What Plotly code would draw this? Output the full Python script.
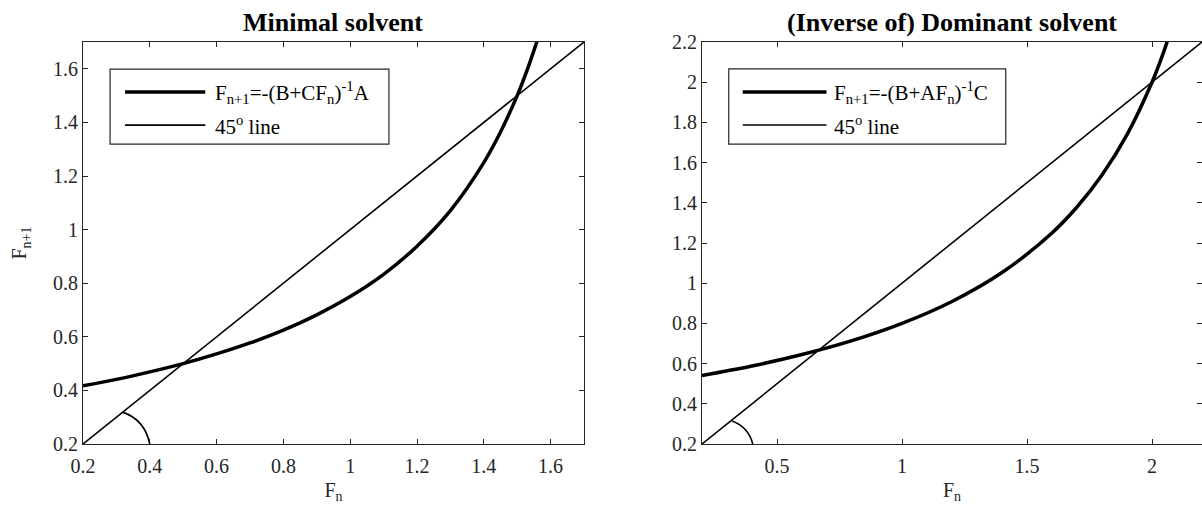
import plotly.graph_objects as go

# values
# left panel: minimal solvent iteration
min_x = [0.2, 0.3, 0.4, 0.5, 0.6, 0.7, 0.8, 0.9, 1.0, 1.1, 1.2, 1.3, 1.4, 1.45, 1.5, 1.53, 1.56]
min_y = [0.417, 0.441, 0.469, 0.5, 0.536, 0.577, 0.625, 0.682, 0.75, 0.833, 0.938, 1.071, 1.25, 1.364, 1.5, 1.596, 1.705]
min_line = [0.2, 1.7]

# right panel: (inverse of) dominant solvent iteration
dom_x = [0.2, 0.4, 0.6, 0.8, 1.0, 1.2, 1.4, 1.6, 1.7, 1.8, 1.9, 2.0, 2.05, 2.07]
dom_y = [0.541, 0.588, 0.645, 0.714, 0.8, 0.909, 1.053, 1.25, 1.379, 1.538, 1.739, 2.0, 2.162, 2.24]
dom_line = [0.2, 2.2]

left_ticks = [0.2, 0.4, 0.6, 0.8, 1.0, 1.2, 1.4, 1.6]
right_xticks = [0.5, 1.0, 1.5, 2.0]
right_yticks = [0.2, 0.4, 0.6, 0.8, 1.0, 1.2, 1.4, 1.6, 1.8, 2.0, 2.2]

titles = ["Minimal solvent", "(Inverse of) Dominant solvent"]
legend_curve = ["F<sub>n+1</sub>=-(B+CF<sub>n</sub>)<sup>-1</sup>A",
                "F<sub>n+1</sub>=-(B+AF<sub>n</sub>)<sup>-1</sup>C"]
legend_line = "45<sup>o</sup> line"

FONT = "Liberation Serif"
AXC = "#262626"

fig = go.Figure()
fig.add_trace(go.Scatter(x=min_x, y=min_y, mode="lines", line=dict(color="black", width=3.5, shape="spline"),
                         xaxis="x", yaxis="y", showlegend=False))
fig.add_trace(go.Scatter(x=min_line, y=min_line, mode="lines", line=dict(color="black", width=1.6),
                         xaxis="x", yaxis="y", showlegend=False))
fig.add_trace(go.Scatter(x=dom_x, y=dom_y, mode="lines", line=dict(color="black", width=3.5, shape="spline"),
                         xaxis="x2", yaxis="y2", showlegend=False))
fig.add_trace(go.Scatter(x=dom_line, y=dom_line, mode="lines", line=dict(color="black", width=1.6),
                         xaxis="x2", yaxis="y2", showlegend=False))

axis_style = dict(showline=True, mirror="ticks", ticks="inside", ticklen=5, linecolor=AXC, linewidth=1.2,
                  tickcolor=AXC, showgrid=False, zeroline=False, automargin=False,
                  tickfont=dict(family=FONT, size=20, color=AXC))

LD = [83 / 1202, 584 / 1202]
RD = [702 / 1202, 1.0]

fig.update_layout(
    width=1202, height=506,
    margin=dict(l=0, r=0, t=42, b=62, autoexpand=False),
    plot_bgcolor="white", paper_bgcolor="white",
    font=dict(family=FONT, color=AXC),
    xaxis=dict(domain=LD, range=[0.2, 1.7], tickvals=left_ticks, anchor="y", ticklabelstandoff=4,
               title=dict(text="F<sub>n</sub>", font=dict(size=20), standoff=6), **axis_style),
    yaxis=dict(domain=[0, 1], range=[0.2, 1.7], tickvals=left_ticks, anchor="x",
               title=dict(text="F<sub>n+1</sub>", font=dict(size=20), standoff=20), **axis_style),
    xaxis2=dict(domain=RD, range=[0.2, 2.2], tickvals=right_xticks, anchor="y2", ticklabelstandoff=4,
                title=dict(text="F<sub>n</sub>", font=dict(size=20), standoff=6), **axis_style),
    yaxis2=dict(domain=[0, 1], range=[0.2, 2.2], tickvals=right_yticks, anchor="x2", **axis_style),
)

# angle arcs at the origin of each 45 degree line
fig.add_shape(type="path", path="M 0.32,0.318 Q 0.385,0.29 0.4,0.2", xref="x", yref="y",
              line=dict(color="black", width=1.6))
fig.add_shape(type="path", path="M 0.32,0.314 Q 0.385,0.285 0.403,0.2", xref="x2", yref="y2",
              line=dict(color="black", width=1.6))

# hand-drawn legend boxes (MATLAB style)
legends = [
    dict(xr="x", yr="y", box=(0.281, 1.319, 1.116, 1.599), lx=(0.326, 0.566), tx=0.59, rows=(1.513, 1.39)),
    dict(xr="x2", yr="y2", box=(0.307, 1.692, 1.415, 2.066), lx=(0.363, 0.698), tx=0.718, rows=(1.951, 1.787)),
]
for i, lg in enumerate(legends):
    x0, y0, x1, y1 = lg["box"]
    fig.add_shape(type="rect", x0=x0, y0=y0, x1=x1, y1=y1, xref=lg["xr"], yref=lg["yr"],
                  line=dict(color=AXC, width=1.2), fillcolor="white", layer="above")
    for r, (w, txt) in enumerate([(3.5, legend_curve[i]), (1.6, legend_line)]):
        fig.add_shape(type="line", x0=lg["lx"][0], x1=lg["lx"][1], y0=lg["rows"][r], y1=lg["rows"][r],
                      xref=lg["xr"], yref=lg["yr"], line=dict(color="black", width=w), layer="above")
        fig.add_annotation(x=lg["tx"], y=lg["rows"][r], xref=lg["xr"], yref=lg["yr"], text=txt,
                           showarrow=False, xanchor="left", yanchor="middle",
                           font=dict(family=FONT, size=21, color="black"))

# panel titles
for dom, t in zip([LD, RD], titles):
    fig.add_annotation(x=(dom[0] + dom[1]) / 2, y=1, xref="paper", yref="paper",
                       xanchor="center", yanchor="bottom", yshift=3,
                       text="<b>" + t + "</b>", showarrow=False, font=dict(family=FONT, size=26, color="black"))

# drop the default page margin so the figure sits at the window's corner
fig.write_html("out.html", config={"displayModeBar": False},
               post_script="document.body.style.margin='0';document.body.style.overflow='hidden';")
